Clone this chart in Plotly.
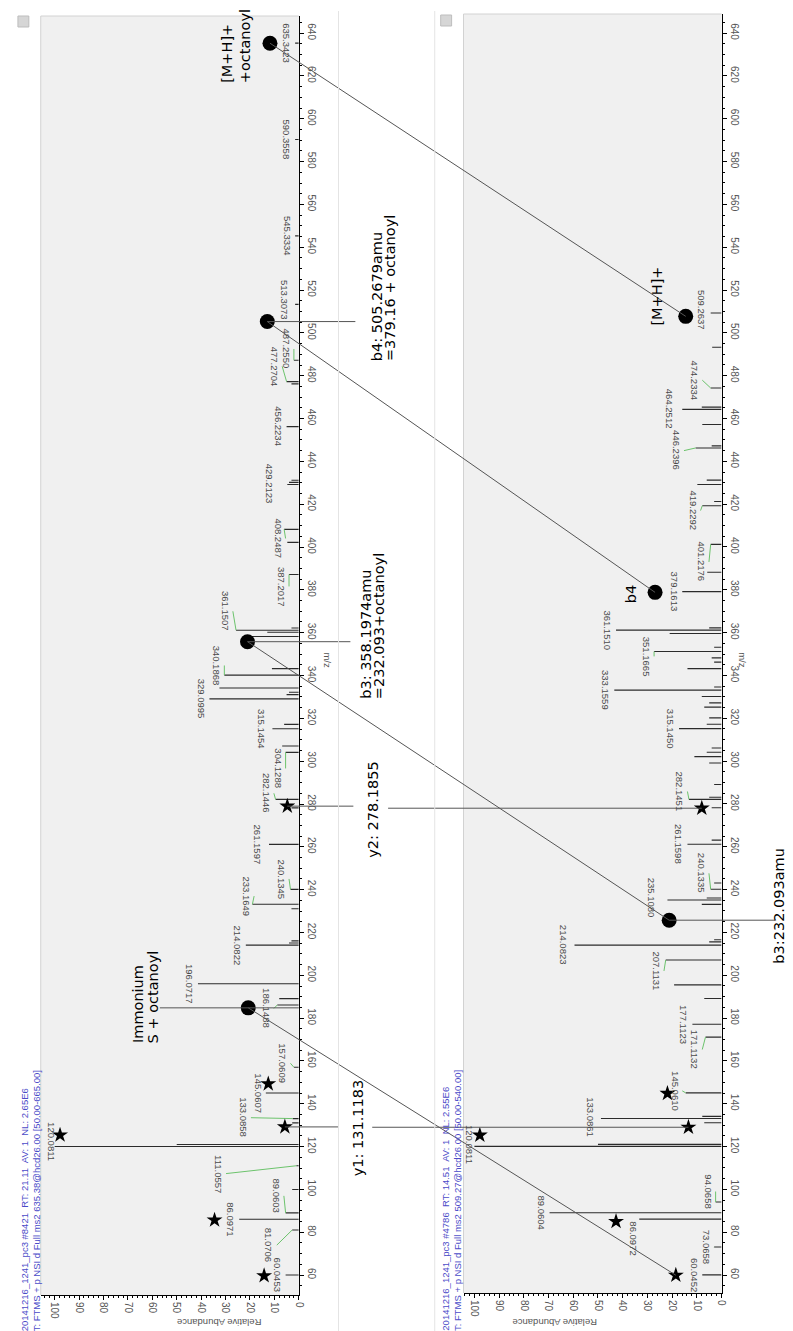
import plotly.graph_objects as go

W, H = 793, 1331

# ---------------- DATA ----------------
# Spectrum 1 (scan #8421): labelled centroid peaks (m/z, relative abundance %)
s1_mz = [60.0453, 81.0706, 86.0971, 89.0603, 111.0557, 120.0811, 133.0858, 145.0607,
         157.0609, 186.1488, 196.0717, 214.0822, 233.1649, 240.1345, 261.1597, 282.1446,
         304.1288, 315.1454, 329.0995, 340.1868, 361.1507, 387.2017, 408.2487, 429.2123,
         456.2234, 477.2704, 487.2550, 513.3073, 545.3334, 590.3558, 635.3423]
s1_ab = [5.4, 2.7, 24.4, 5.4, 1.0, 100, 2.5, 13.5,
         2.0, 8.8, 41.3, 21.7, 19.0, 3.4, 12.2, 9.5,
         5.4, 10.8, 36.6, 30.5, 25.7, 4.0, 6.0, 4.7,
         5.0, 5.0, 2.0, 1.5, 1.5, 1.5, 1.5]
# Spectrum 1: unlabelled peaks
s1_other_mz = [100.0, 121.0, 131.1, 189.1, 215.1, 216.1, 231.1, 278.19, 307.1, 317.2,
               331.1, 332.2, 334.2, 343.2, 358.2, 360.2, 362.2, 402.2, 430.2, 431.2, 476.2]
s1_other_ab = [2.7, 50, 2.7, 8.0, 4.0, 3.0, 3.0, 3.0, 6.8, 6.0,
               5.0, 4.0, 32.5, 11.0, 19.6, 12.9, 3.0, 4.7, 4.0, 3.0, 3.0]
# Spectrum 1 markers
s1_star_mz = [59.7, 85.7, 125.4, 129.2, 149.3, 279.0]
s1_star_ab = [14.2, 34.5, 97.8, 5.7, 12.5, 4.7]
s1_circ_mz = [635.3, 505.3, 355.8, 184.8]
s1_circ_ab = [11.8, 12.9, 21.0, 20.7]

# Spectrum 2 (scan #4786): labelled peaks
s2_mz = [60.0452, 73.0658, 86.0972, 89.0604, 94.0658, 120.0811, 133.0861, 145.0610,
         171.1132, 177.1123, 207.1131, 214.0823, 235.1080, 240.1335, 261.1598, 282.1451,
         315.1450, 333.1559, 351.1665, 361.1510, 379.1613, 401.2176, 419.2292, 446.2396,
         464.2512, 474.2334, 509.2637]
s2_ab = [7.8, 3.0, 33.3, 69.6, 2.4, 100, 48.8, 14.5,
         6.5, 11.8, 22.6, 59.5, 21.9, 4.4, 13.8, 13.2,
         17.2, 43.4, 27.3, 42.7, 15.9, 4.4, 7.8, 10.5,
         15.9, 4.4, 4.4]
s2_other_mz = [121.0, 131.1, 134.1, 189.1, 195.5, 215.6, 216.6, 233.1, 236.1, 243.1,
               263.1, 278.19, 283.1, 289.1, 299.1, 302.1, 304.1, 306.1, 317.2, 320.2,
               325.2, 327.2, 330.2, 334.6, 343.2, 346.2, 348.2, 353.2, 359.6, 362.2,
               388.2, 421.2, 429.2, 431.2, 447.2, 457.2, 465.3, 493.3]
s2_other_ab = [50, 7.0, 7.8, 7.0, 19.2, 5.0, 3.0, 8.0, 6.0, 3.0,
               4.0, 4.0, 5.0, 3.0, 5.0, 11.0, 6.0, 4.0, 6.0, 5.0,
               7.0, 5.0, 8.0, 3.0, 13.8, 3.0, 4.0, 3.0, 21.0, 5.0,
               5.8, 3.0, 9.8, 6.0, 4.0, 7.8, 8.0, 3.8]
s2_star_mz = [59.9, 85.0, 125.3, 129.0, 144.8, 278.0]
s2_star_ab = [18.5, 42.7, 97.8, 13.4, 21.9, 8.0]
s2_circ_mz = [507.7, 378.8, 225.7]
s2_circ_ab = [14.5, 26.9, 21.2]

titles1 = ["20141216_1241_pc3 #8421  RT: 21.11  AV: 1  NL: 2.65E6",
           "T: FTMS + p NSI d Full ms2 635.38@hcd26.00 [50.00-665.00]"]
titles2 = ["20141216_1241_pc3 #4786  RT: 14.51  AV: 1  NL: 2.55E6",
           "T: FTMS + p NSI d Full ms2 509.27@hcd26.00 [50.00-540.00]"]

# ---------------- LAYOUT / STYLE ----------------
# axis geometry (pixels)
P1 = dict(xd=(33, 293), yd=(8, 1287), xr=(105.7, 0), yr=(50.7, 648.0))
P2 = dict(xd=(459, 719), yd=(6, 1285), xr=(104.4, 0), yr=(51.6, 648.9))

# label placement tweaks (label m/z centre, label right-edge abundance) where leader lines are used
LAB1 = {81.0706: (74, 9), 89.0603: (97, 6.1), 111.0557: (107.4, 29.8), 133.0858: (133.5, 19.6),
        157.0609: (158.9, 3.4), 186.1488: (184.5, 10.2), 233.1649: (237, 18.3), 240.1345: (245, 4),
        282.1446: (285, 10.2), 304.1288: (296.6, 5.4), 340.1868: (344.7, 30.5), 361.1507: (370, 27),
        387.2017: (381.6, 4), 408.2487: (404, 5.4), 429.2123: (429.7, 8.8), 477.2704: (484.4, 6.8),
        487.2550: (492.5, 2), 120.0811: (122.3, 98.2), 261.1597: (261, 14), 315.1454: (315.3, 12.2),
        513.3073: (515.5, 2.7)}
LEAD1 = [81.0706, 89.0603, 111.0557, 133.0858, 157.0609, 186.1488, 233.1649, 240.1345,
         282.1446, 304.1288, 340.1868, 361.1507, 387.2017, 408.2487, 477.2704, 487.2550]
LAB2 = {509.2637: (510.5, 5.1), 474.2334: (477.9, 7.8), 464.2512: (464.6, 17.9), 446.2396: (445, 15.2),
        419.2292: (417, 8.5), 401.2176: (393, 5.1), 351.1665: (348.9, 27.3), 282.1451: (285.8, 13.8),
        240.1335: (247.6, 5.1), 235.1080: (236.4, 25.3), 207.1131: (202, 23.3), 171.1132: (165.3, 7.8),
        145.0610: (146, 15.9), 120.0811: (121, 99), 94.0658: (99, 2.4), 86.0972: (77, 32.7),
        73.0658: (73, 3.1), 133.0861: (133.5, 50), 214.0823: (214.4, 60.9)}
LEAD2 = [474.2334, 446.2396, 419.2292, 401.2176, 351.1665, 282.1451, 240.1335, 207.1131,
         171.1132, 145.0610, 94.0658, 73.0658]

BAR = '#2b2b2b'
LABC = '#4a4a4a'
TICKC = '#555555'
BLUE = '#4b4bc8'
FONT = 'Liberation Sans'
BIG = 'DejaVu Sans'


def dom_x(p):
    return [p['xd'][0] / W, p['xd'][1] / W]


def dom_y(p):
    return [1 - p['yd'][1] / H, 1 - p['yd'][0] / H]


def to_paper(p, ab, mz):
    dx, dy = dom_x(p), dom_y(p)
    px = dx[0] + (ab - p['xr'][0]) / (p['xr'][1] - p['xr'][0]) * (dx[1] - dx[0])
    py = dy[0] + (mz - p['yr'][0]) / (p['yr'][1] - p['yr'][0]) * (dy[1] - dy[0])
    return px, py


def sticks(mz, ab):
    xs, ys = [], []
    for m, a in zip(mz, ab):
        xs += [0, a, None]
        ys += [m, m, None]
    return xs, ys


fig = go.Figure()
annotations = []
shapes = []

for k, (P, mz, ab, omz, oab, smz, sab, cmz, cab, LAB, LEAD) in enumerate([
        (P1, s1_mz, s1_ab, s1_other_mz, s1_other_ab, s1_star_mz, s1_star_ab, s1_circ_mz, s1_circ_ab, LAB1, LEAD1),
        (P2, s2_mz, s2_ab, s2_other_mz, s2_other_ab, s2_star_mz, s2_star_ab, s2_circ_mz, s2_circ_ab, LAB2, LEAD2)]):
    xa = 'x' if k == 0 else 'x2'
    ya = 'y' if k == 0 else 'y2'
    xs, ys = sticks(mz + omz, ab + oab)
    fig.add_trace(go.Scatter(x=xs, y=ys, mode='lines', line=dict(color=BAR, width=1.1),
                             xaxis=xa, yaxis=ya, hoverinfo='skip', showlegend=False))
    # green leader lines
    lx, ly = [], []
    for m, a in zip(mz, ab):
        if m in LEAD:
            lm, la = LAB[m]
            lx += [a, la, None]
            ly += [m, lm, None]
    fig.add_trace(go.Scatter(x=lx, y=ly, mode='lines', line=dict(color='#6cc36c', width=1),
                             xaxis=xa, yaxis=ya, hoverinfo='skip', showlegend=False))
    fig.add_trace(go.Scatter(x=sab, y=smz, mode='markers',
                             marker=dict(symbol='star', size=12, color='black'),
                             xaxis=xa, yaxis=ya, showlegend=False))
    fig.add_trace(go.Scatter(x=cab, y=cmz, mode='markers',
                             marker=dict(symbol='circle', size=15, color='black'),
                             xaxis=xa, yaxis=ya, showlegend=False))
    # peak labels
    for m, a in zip(mz, ab):
        lm, la = LAB.get(m, (m, a + 0.3))
        annotations.append(dict(x=la, y=lm, xref=xa, yref=ya, text=f"{m:.4f}", showarrow=False,
                                textangle=90, xanchor='right', yanchor='middle',
                                font=dict(family=FONT, size=9.5, color=LABC)))
    # plot-area light border (left & top)
    xd = 'x domain' if k == 0 else 'x2 domain'
    yd = 'y domain' if k == 0 else 'y2 domain'
    shapes.append(dict(type='line', xref=xd, yref=yd, x0=0, x1=0, y0=0, y1=1,
                       line=dict(color='#d2d2d2', width=1)))
    shapes.append(dict(type='line', xref=xd, yref=yd, x0=0, x1=1, y0=1, y1=1,
                       line=dict(color='#d2d2d2', width=1)))


def line_paper(p0, p1, color='#555555', width=1):
    shapes.append(dict(type='line', xref='paper', yref='paper', x0=p0[0], y0=p0[1],
                       x1=p1[0], y1=p1[1], line=dict(color=color, width=width)))


def px(x):
    return x / W


# connections between the two spectra
c1 = [to_paper(P1, a, m) for a, m in zip(s1_circ_ab, s1_circ_mz)]
c2 = [to_paper(P2, a, m) for a, m in zip(s2_circ_ab, s2_circ_mz)]
st1 = [to_paper(P1, a, m) for a, m in zip(s1_star_ab, s1_star_mz)]
st2 = [to_paper(P2, a, m) for a, m in zip(s2_star_ab, s2_star_mz)]

line_paper(c1[0], c2[0])
line_paper(c1[1], c2[1])
line_paper(c1[2], c2[2])
line_paper(c1[3], st2[0])
# annotation leaders
line_paper(c1[1], (px(350), c1[1][1]))
line_paper(c1[2], (px(345), c1[2][1]))
ax0 = to_paper(P1, 0, s1_circ_mz[3])
line_paper((px(153), ax0[1]), ax0)
line_paper(c2[2], (px(773), c2[2][1]))
# y2 and y1 lines (interrupted by text)
line_paper(st1[5], (px(348), st1[5][1]))
line_paper((px(383), st2[5][1]), st2[5])
line_paper(st1[3], (px(333), st1[3][1]))
line_paper((px(367), st2[3][1]), st2[3])

# big annotation texts (rotated -90, anchored at their start)
big = [("b4: 505.2679amu", 371.5, 355), ("=379.16 + octanoyl", 385, 355),
       ("b3: 358.1974amu", 360, 693), ("=232.093+octanoyl", 374, 693),
       ("y2: 278.1855", 367, 852), ("y1: 131.1183", 352.5, 1170),
       ("Immonium", 131, 1037), ("S + octanoyl", 146, 1037),
       ("[M+H]+", 220, 77), ("+octanoyl", 239, 77),
       ("[M+H]+", 653, 320), ("b4", 628, 597), ("b3:232.093amu", 776, 958)]
for t, x, y in big:
    annotations.append(dict(x=x / W, y=1 - y / H, xref='paper', yref='paper', text=t,
                            showarrow=False, textangle=-90, xanchor='center', yanchor='bottom',
                            font=dict(family=BIG, size=14.5, color='black')))

# scan headers
for lines, xs in [(titles1, (17, 29)), (titles2, (440, 453))]:
    for t, x in zip(lines, xs):
        annotations.append(dict(x=x / W, y=1 - 1325 / H, xref='paper', yref='paper', text=t,
                                showarrow=False, textangle=-90, xanchor='center', yanchor='bottom',
                                font=dict(family=FONT, size=9.5, color=BLUE)))

# axis titles
for x in (168, 595):
    annotations.append(dict(x=x / W, y=1 - 1322 / H, xref='paper', yref='paper',
                            text='Relative Abundance', showarrow=False, textangle=180,
                            font=dict(family=FONT, size=9.5, color=TICKC)))
for x in (322, 748):
    annotations.append(dict(x=x / W, y=1 - 652 / H, xref='paper', yref='paper', text='m/z',
                            showarrow=False, textangle=90, font=dict(family=FONT, size=9.5, color=TICKC)))

# window frames and pin icons
shapes.append(dict(type='line', xref='paper', yref='paper', x0=px(333), x1=px(333), y0=0, y1=1 - 3 / H,
                   line=dict(color='#e4e4e4', width=1)))
shapes.append(dict(type='line', xref='paper', yref='paper', x0=px(430), x1=px(430), y0=0, y1=1 - 3 / H,
                   line=dict(color='#e4e4e4', width=1)))
for x0, y0 in ((10, 8), (436, 7)):
    shapes.append(dict(type='rect', xref='paper', yref='paper', x0=px(x0), x1=px(x0 + 11),
                       y0=1 - (y0 + 11) / H, y1=1 - y0 / H, fillcolor='#d6d6d6',
                       line=dict(color='#bdbdbd', width=1)))


def xaxis(p, anchor):
    return dict(domain=dom_x(p), range=list(p['xr']), anchor=anchor, dtick=10, tick0=0,
                tickangle=90, ticks='outside', ticklen=4, tickcolor='black',
                showline=True, linecolor='black', linewidth=1, showgrid=False, zeroline=False,
                minor=dict(ticks='outside', ticklen=2, dtick=2, tickcolor='black'),
                tickfont=dict(family=FONT, size=10, color=TICKC))


def yaxis(p, anchor):
    return dict(domain=dom_y(p), range=list(p['yr']), anchor=anchor, side='right', dtick=20, tick0=0,
                tickangle=90, ticks='outside', ticklen=4, tickcolor='black',
                showline=True, linecolor='black', linewidth=1, showgrid=False, zeroline=False,
                minor=dict(ticks='outside', ticklen=2, dtick=5, tickcolor='black'),
                tickfont=dict(family=FONT, size=10, color=TICKC))


fig.update_layout(
    width=W, height=H, margin=dict(l=0, r=0, t=0, b=0),
    paper_bgcolor='white', plot_bgcolor='#f0f0f0',
    xaxis=xaxis(P1, 'y'), yaxis=yaxis(P1, 'x'),
    xaxis2=xaxis(P2, 'y2'), yaxis2=yaxis(P2, 'x2'),
    annotations=annotations, shapes=shapes, showlegend=False,
)

fig.write_html("out.html")
